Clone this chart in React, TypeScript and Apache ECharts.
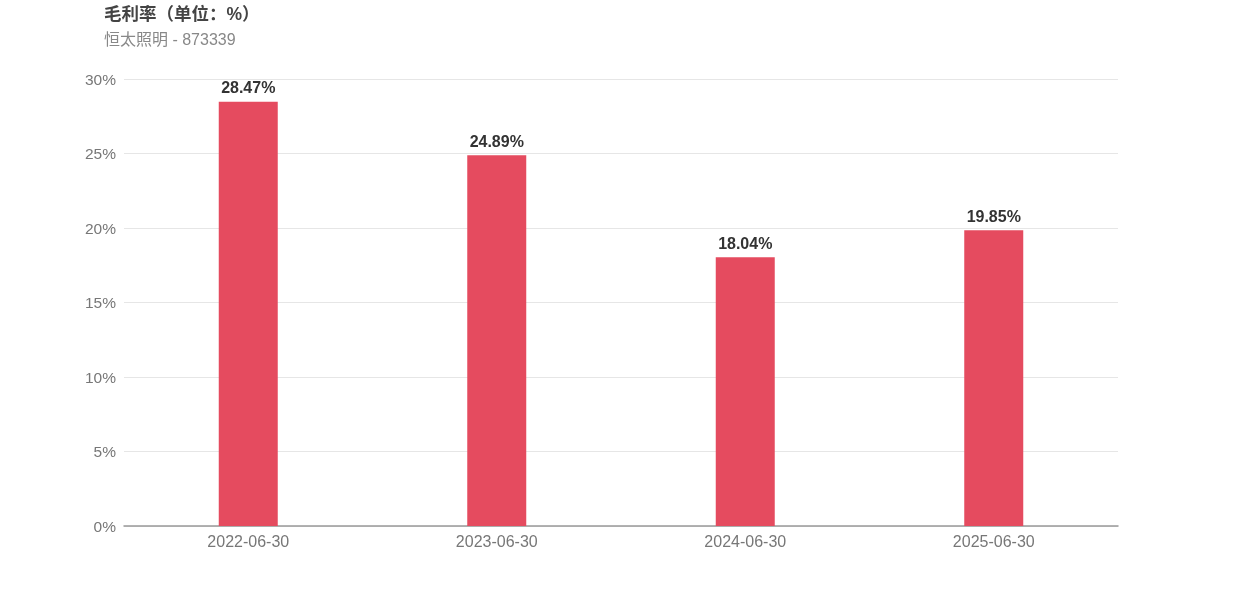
import React, { useEffect, useRef } from "react";
import * as echarts from "echarts";

const categories = ["2022-06-30", "2023-06-30", "2024-06-30", "2025-06-30"];
const grossMargin = [28.47, 24.89, 18.04, 19.85];
const titleText = "毛利率（单位：%）";
const subtitleText = "恒太照明 - 873339";

const FONT = "'Liberation Sans', Arial, 'Noto Sans CJK SC', sans-serif";

export default function App() {
  const ref = useRef<HTMLDivElement>(null);
  useEffect(() => {
    if (!ref.current) return;
    const chart = echarts.init(ref.current, undefined, { renderer: "svg" });
    chart.setOption({
      animation: false,
      textStyle: { fontFamily: FONT },
      title: {
        text: titleText,
        subtext: subtitleText,
        left: 99,
        top: 0,
        itemGap: 9,
        textStyle: { fontSize: 17.5, fontWeight: "bold", color: "#444", fontFamily: FONT },
        subtextStyle: { fontSize: 16, color: "#888", fontFamily: FONT },
      },
      grid: { left: 124, right: 124, top: 79, bottom: 70, containLabel: false },
      xAxis: {
        type: "category",
        data: categories,
        axisLine: { lineStyle: { color: "#999", width: 1.5 } },
        axisTick: { show: false },
        axisLabel: { color: "#777", fontSize: 16, margin: 7, fontFamily: FONT },
      },
      yAxis: {
        type: "value",
        min: 0,
        max: 30,
        interval: 5,
        axisLabel: { formatter: "{value}%", color: "#777", fontSize: 15.5, margin: 8, fontFamily: FONT },
        splitLine: { lineStyle: { color: "#e6e6e6" } },
        axisLine: { show: false },
        axisTick: { show: false },
      },
      series: [
        {
          type: "bar",
          data: grossMargin,
          barWidth: 59,
          itemStyle: { color: "#E54B5F" },
          label: {
            show: true,
            position: "top",
            formatter: (p: any) => p.value.toFixed(2) + "%",
            color: "#333",
            fontSize: 16,
            fontWeight: "bold",
            distance: 6,
            fontFamily: FONT,
          },
        },
      ],
    });
    return () => chart.dispose();
  }, []);
  return <div ref={ref} style={{ position: "fixed", left: 0, top: 0, width: 1242, height: 596 }} />;
}
